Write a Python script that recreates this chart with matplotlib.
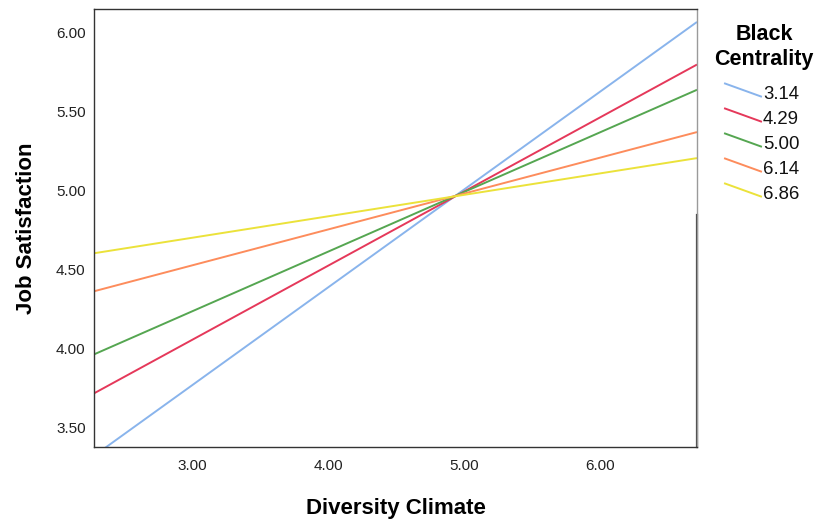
import matplotlib
matplotlib.use("Agg")
import matplotlib.pyplot as plt
from matplotlib.lines import Line2D

plt.rcParams["font.family"] = ["Liberation Sans", "DejaVu Sans"]

# Simple slopes of job satisfaction on diversity climate at five levels of
# Black centrality; each line is given by its value at both ends of the x range.
climate_range = [2.28, 6.71]
centrality_levels = ["3.14", "4.29", "5.00", "6.14", "6.86"]
satisfaction_low = [3.32, 3.716, 3.963, 4.363, 4.604]
satisfaction_high = [6.07, 5.80, 5.64, 5.372, 5.207]
line_colors = ["#89b4ec", "#e5385a", "#55a651", "#fd8c5c", "#ebe23a"]

x_ticks = [3.0, 4.0, 5.0, 6.0]
y_ticks = [3.5, 4.0, 4.5, 5.0, 5.5, 6.0]

W, H = 821, 525


def main():
    fig = plt.figure(figsize=(W / 100, H / 100), dpi=100)
    ax = fig.add_axes([94 / W, 1 - 446.7 / H, (697 - 94) / W, (446.7 - 9) / H])

    for lo, hi, color in zip(satisfaction_low, satisfaction_high, line_colors):
        ax.plot(climate_range, [lo, hi], color=color, linewidth=1.4,
                solid_capstyle="butt")

    ax.set_xlim(climate_range)
    ax.set_ylim(3.378, 6.152)
    ax.set_xticks(x_ticks)
    ax.set_yticks(y_ticks)
    ax.set_xticklabels([f"{t:.2f}" for t in x_ticks])
    ax.set_yticklabels([f"{t:.2f}" for t in y_ticks])
    ax.tick_params(axis="both", length=0, labelsize=11, labelcolor="#222222")
    ax.tick_params(axis="x", pad=9)
    ax.tick_params(axis="y", pad=6)

    for side in ["left", "top", "bottom"]:
        ax.spines[side].set_color("#333333")
        ax.spines[side].set_linewidth(1.0)
    ax.spines["right"].set_color("#9a9a9a")
    ax.spines["right"].set_linewidth(1.0)
    # the lower part of the right frame edge is drawn darker
    ax.plot([1, 1], [0, 0.529], transform=ax.transAxes, clip_on=False,
            color="#444444", linewidth=1.6)

    ax.set_xlabel("Diversity Climate", fontsize=16, fontweight="bold",
                  labelpad=18)
    ax.set_ylabel("Job Satisfaction", fontsize=16, fontweight="bold",
                  labelpad=14)

    # legend with sloped line keys
    fig.text(764 / W, 1 - 40 / H, "Black", ha="center", va="baseline",
             fontsize=15.5, fontweight="bold")
    fig.text(764 / W, 1 - 65 / H, "Centrality", ha="center", va="baseline",
             fontsize=15.5, fontweight="bold")
    for i, (label, color) in enumerate(zip(centrality_levels, line_colors)):
        y0 = 83.5 + 25 * i
        fig.add_artist(Line2D([725 / W, 761 / W],
                              [1 - y0 / H, 1 - (y0 + 13) / H],
                              color=color, linewidth=1.4))
        fig.text(763 / W, 1 - (99 + 25 * i) / H, label, ha="left",
                 va="baseline", fontsize=13.4, color="#111111")

    fig.savefig("out.png", dpi=100)


if __name__ == "__main__":
    main()
